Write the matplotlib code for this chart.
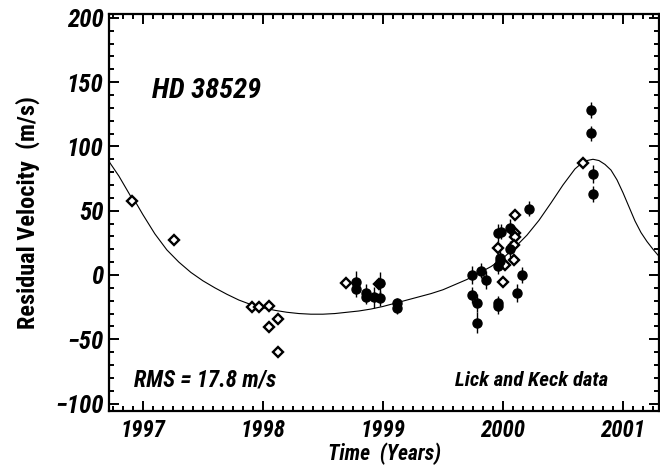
import matplotlib
matplotlib.use("Agg")
import matplotlib.pyplot as plt
from matplotlib.ticker import MultipleLocator
from matplotlib import font_manager

# --- residual velocities: Lick (open diamonds) ---
lick_t = [1996.906, 1997.257, 1997.910, 1997.971, 1998.054, 1998.054, 1998.123,
          1998.126, 1998.696, 1998.967, 1999.957, 2000.00, 2000.02, 2000.09,
          2000.10, 2000.10, 2000.10, 2000.09, 2000.67]
lick_v = [57.5, 27.0, -25.1, -25.1, -23.9, -40.7, -34.4,
          -60.1, -6.2, -7.0, 21.2, -5.2, 7.8, 11.7,
          46.9, 32.4, 29.3, 23.3, 87.3]
lick_e = [2, 2, 2, 2, 3, 2, 2, 2, 2, 2, 2, 2, 2, 2, 2, 2, 2, 2, 2]

# --- residual velocities: Keck (filled circles) ---
keck_t = [1998.773, 1998.773, 1998.861, 1998.861, 1998.923, 1998.978, 1998.973,
          1999.119, 1999.119, 1999.74, 1999.82, 1999.86, 1999.74, 1999.78,
          1999.78, 1999.96, 1999.96, 1999.957, 1999.985, 2000.06, 2000.06,
          1999.977, 1999.977, 1999.96, 2000.12, 2000.16, 2000.22, 2000.73,
          2000.73, 2000.75, 2000.75]
keck_v = [-5.2, -11.1, -13.7, -16.9, -17.4, -18.2, -6.5,
          -22.0, -26.0, 0.0, 3.3, -3.9, -15.6, -22.0,
          -37.1, -22.0, -24.0, 32.4, 33.7, 36.3, 20.2,
          13.0, 10.5, 7.0, -14.3, 0.0, 51.5, 128.3,
          110.2, 78.5, 63.0]
keck_e = [8, 6, 7, 6, 8, 6, 9,
          4, 4, 7, 6, 7, 6, 7,
          8, 6, 6, 7, 6, 7, 6,
          6, 6, 6, 7, 6, 6, 6,
          6, 7, 6]

# --- long-period fit curve ---
fit_t = [1996.72, 1996.80, 1996.90, 1996.95, 1997.00, 1997.10, 1997.20, 1997.30,
         1997.40, 1997.50, 1997.60, 1997.70, 1997.80, 1997.90, 1998.00, 1998.10,
         1998.20, 1998.30, 1998.40, 1998.50, 1998.60, 1998.70, 1998.80, 1998.90,
         1999.00, 1999.10, 1999.20, 1999.30, 1999.40, 1999.50, 1999.60, 1999.70,
         1999.80, 1999.90, 2000.00, 2000.10, 2000.20, 2000.30, 2000.40, 2000.50,
         2000.60, 2000.65, 2000.70, 2000.75, 2000.80, 2000.85, 2000.90, 2000.95,
         2001.00, 2001.05, 2001.10, 2001.15, 2001.20, 2001.25, 2001.30]
fit_v = [88.0, 77.0, 61.0, 55.0, 47.0, 32.0, 19.5, 10.0,
         2.0, -4.5, -10.0, -15.0, -19.5, -23.0, -25.5, -27.5,
         -29.0, -30.0, -30.5, -30.5, -30.0, -29.0, -28.0, -26.5,
         -24.5, -22.0, -19.5, -17.0, -14.5, -11.5, -7.5, -3.5,
         1.5, 6.5, 13.0, 21.5, 31.0, 42.5, 56.0, 70.0,
         82.5, 86.5, 89.0, 90.0, 89.0, 86.0, 81.6, 74.0,
         64.0, 53.0, 42.0, 33.0, 26.0, 20.0, 14.5]

x_ticks = [1997, 1998, 1999, 2000, 2001]
x_ticklabels = ["1997", "1998", "1999", "2000", "2001"]
y_ticks = [-100, -50, 0, 50, 100, 150, 200]
y_ticklabels = ["\u2212100", "\u221250", "0", "50", "100", "150", "200"]


def pick_narrow_family():
    """Prefer a narrow/condensed sans face; fall back to Liberation Sans."""
    fonts = font_manager.fontManager.ttflist
    names = {f.name for f in fonts}
    for name in ("Liberation Sans Narrow", "Arial Narrow", "Nimbus Sans Narrow",
                 "Noto Sans Condensed", "Roboto Condensed",
                 "Open Sans Condensed", "DejaVu Sans Condensed"):
        if name in names:
            return name, "normal"
    for f in fonts:
        if ("Narrow" in f.name or "Condensed" in f.name) and "Mono" not in f.name \
                and "Serif" not in f.name:
            return f.name, "normal"
    for fam in ("Liberation Sans", "Noto Sans", "DejaVu Sans"):
        for f in fonts:
            if f.name == fam and str(f.stretch) in ("condensed", "semi-condensed", "75", "87"):
                return fam, "condensed"
    return "Liberation Sans", "normal"


family, stretch = pick_narrow_family()
plt.rcParams["font.family"] = [family, "DejaVu Sans"]
plt.rcParams["font.stretch"] = stretch

fig = plt.figure(figsize=(6.6, 4.68), dpi=100)
ax = fig.add_axes([109 / 660, 57 / 468, 550 / 660, 397 / 468])

ax.plot(fit_t, fit_v, color="black", lw=0.8, zorder=2)

ax.errorbar(lick_t, lick_v, yerr=lick_e, fmt="D", ms=4.8, mfc="white",
            mec="black", mew=1.7, ecolor="black", elinewidth=1.0, capsize=0,
            zorder=3)
ax.errorbar(keck_t, keck_v, yerr=keck_e, fmt="o", ms=6.5, mfc="black",
            mec="black", ecolor="black", elinewidth=1.0, capsize=0, zorder=4)

ax.set_xlim(1996.718, 2001.30)
ax.set_ylim(-105.8, 203.0)

ax.set_xticks(x_ticks)
ax.set_xticklabels(x_ticklabels)
ax.set_yticks(y_ticks)
ax.set_yticklabels(y_ticklabels)
ax.xaxis.set_minor_locator(MultipleLocator(1 / 12))
ax.yaxis.set_minor_locator(MultipleLocator(10))

ax.tick_params(which="both", direction="in", top=True, right=True, width=1.4,
               colors="black")
ax.tick_params(which="major", length=7)
ax.tick_params(which="minor", length=3.5)
ax.tick_params(axis="x", which="major", pad=6)
ax.tick_params(axis="y", which="major", pad=4)
for lab in ax.get_xticklabels():
    lab.set_fontsize(16.5)
    lab.set_fontweight("bold")
    lab.set_fontstyle("italic")
for lab in ax.get_yticklabels():
    lab.set_fontsize(18)
    lab.set_fontweight("bold")
    lab.set_fontstyle("italic")

for sp in ax.spines.values():
    sp.set_linewidth(1.6)

ax.set_xlabel("Time  (Years)", fontsize=15.5, fontweight="bold",
              fontstyle="italic", labelpad=0)
ax.set_ylabel("Residual Velocity  (m/s)", fontsize=17.5, fontweight="bold",
              labelpad=11)

ax.text(0.078, 0.808, "HD 38529", transform=ax.transAxes, fontsize=20.5,
        fontweight="bold", fontstyle="italic", va="center", ha="left")
ax.text(0.045, 0.078, "RMS = 17.8 m/s", transform=ax.transAxes, fontsize=16.5,
        fontweight="bold", fontstyle="italic", va="center", ha="left")
ax.text(0.907, 0.078, "Lick and Keck data", transform=ax.transAxes,
        fontsize=15, fontweight="bold", fontstyle="italic", va="center",
        ha="right")

fig.savefig("out.png", dpi=100)
